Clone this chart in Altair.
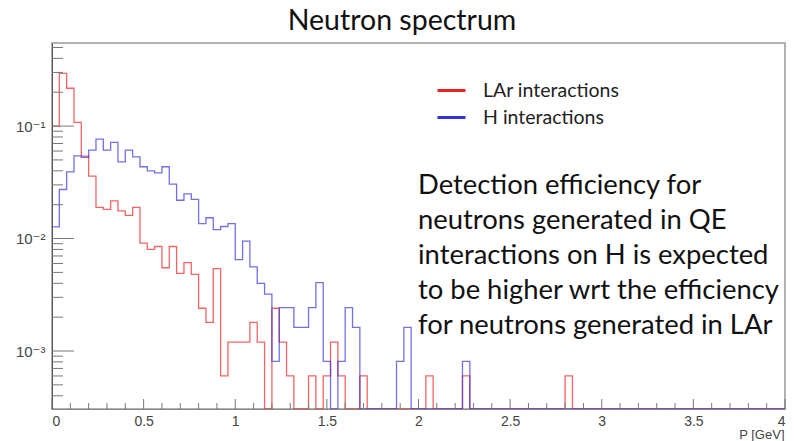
import altair as alt
import pandas as pd

# ---------------- data ----------------
TITLE = "Neutron spectrum"
X_TITLE = "P [GeV]"
SERIES = ["LAr interactions", "H interactions"]
BIN_WIDTH = 0.04
X_MIN, X_MAX = 0.0, 4.0
Y_MIN, Y_MAX = 3.05e-4, 0.548

lar = [0.100, 0.294, 0.217, 0.108, 0.054, 0.0359, 0.0189, 0.0182, 0.0216, 0.0176,
       0.0161, 0.0189, 0.0091, 0.0080, 0.0085, 0.0055, 0.0085, 0.0049, 0.0061, 0.0048,
       0.0024, 0.0018, 0.0054, 0.0006, 0.0012, 0.0012, 0.0012, 0.0018, 0.0012, 0,
       0.0024, 0.0012, 0.0006, 0, 0, 0.0006, 0, 0.0006, 0.0012, 0.0006,
       0, 0, 0.0006, 0, 0, 0, 0, 0, 0, 0,
       0, 0.0006, 0, 0, 0, 0, 0.0006, 0, 0, 0,
       0, 0, 0, 0, 0, 0, 0, 0, 0, 0,
       0.0006, 0, 0, 0, 0, 0, 0, 0, 0, 0,
       0, 0, 0, 0, 0, 0, 0, 0, 0, 0,
       0, 0, 0, 0, 0, 0, 0, 0, 0, 0]

hyd = [0.0127, 0.0273, 0.0392, 0.0544, 0.0526, 0.0611, 0.0766, 0.0611, 0.0716, 0.0481,
       0.0611, 0.0533, 0.0435, 0.0400, 0.0384, 0.0435, 0.0305, 0.0219, 0.0250, 0.0223,
       0.0136, 0.0153, 0.0120, 0.0128, 0.0136, 0.0065, 0.0095, 0.0056, 0.0040, 0.0032,
       0.00081, 0.00243, 0.00243, 0.00162, 0.00162, 0.00243, 0.00405, 0.00081, 0, 0.00081,
       0.00243, 0.00162, 0, 0, 0, 0, 0, 0.00081, 0.00162, 0,
       0, 0, 0, 0, 0, 0, 0.00081, 0, 0, 0,
       0, 0, 0, 0, 0, 0, 0, 0, 0, 0,
       0, 0, 0, 0, 0, 0, 0, 0, 0, 0,
       0, 0, 0, 0, 0, 0, 0, 0, 0, 0,
       0, 0, 0, 0, 0, 0, 0, 0, 0, 0]

x_major = [0, 0.5, 1, 1.5, 2, 2.5, 3, 3.5, 4]
x_minor = [0.1, 0.2, 0.3, 0.4, 0.6, 0.7, 0.8, 0.9, 1.1, 1.2, 1.3, 1.4, 1.6, 1.7, 1.8, 1.9,
           2.1, 2.2, 2.3, 2.4, 2.6, 2.7, 2.8, 2.9, 3.1, 3.2, 3.3, 3.4, 3.6, 3.7, 3.8, 3.9]
y_major = [1e-3, 1e-2, 1e-1]
y_minor = [4e-4, 5e-4, 6e-4, 7e-4, 8e-4, 9e-4,
           2e-3, 3e-3, 4e-3, 5e-3, 6e-3, 7e-3, 8e-3, 9e-3,
           2e-2, 3e-2, 4e-2, 5e-2, 6e-2, 7e-2, 8e-2, 9e-2,
           0.2, 0.3, 0.4, 0.5]

NOTE = ("Detection efficiency for\nneutrons generated in QE\ninteractions on H is expected\n"
        "to be higher wrt the efficiency\nfor neutrons generated in LAr")

# ---------------- build table ----------------
rows = []
for name, vals in zip(SERIES, [lar, hyd]):
    for i, v in enumerate(vals):
        rows.append({"series": name, "x": i * BIN_WIDTH, "y": v if v > 0 else Y_MIN, "i": i})
    rows.append({"series": name, "x": len(vals) * BIN_WIDTH,
                 "y": vals[-1] if vals[-1] > 0 else Y_MIN, "i": len(vals)})
df = pd.DataFrame(rows)

W, H = 733, 366
FONT = "Liberation Sans, DejaVu Sans"
SLIDE_FONT = "Lato"

xscale = alt.Scale(domain=[X_MIN, X_MAX], nice=False, zero=False)
yscale = alt.Scale(type="log", domain=[Y_MIN, Y_MAX], nice=False)
cscale = alt.Scale(domain=SERIES, range=["#ee2222", "#3333dd"])

x_axis = alt.Axis(values=x_major, format="~g", ticks=False, grid=False,
                  domainColor="#888", labelFont=FONT, labelFontSize=14,
                  labelColor="#444", labelPadding=5,
                  title=X_TITLE, titleFont=FONT, titleFontSize=13,
                  titleFontWeight="normal", titleColor="#444",
                  titleAnchor="end", titleAlign="right",
                  titleX=W - 1, titleY=25.5, titleBaseline="middle")
y_axis = alt.Axis(values=y_major, ticks=False, grid=False, domainColor="#555",
                  labelExpr="datum.value < 0.002 ? '10⁻³' : (datum.value < 0.02 ? '10⁻²' : '10⁻¹')",
                  labelFont=FONT, labelFontSize=15, labelColor="#444",
                  labelPadding=7, title=None)

base = alt.Chart(df)

legend = alt.Legend(title=None, orient="none", legendX=384, legendY=32,
                    symbolType="stroke", symbolSize=784, symbolStrokeWidth=3,
                    symbolOpacity=1, labelFont=SLIDE_FONT, labelFontSize=19.5,
                    labelColor="#222", labelOffset=16, rowPadding=2)

def hist(name):
    return base.transform_filter(alt.datum.series == name).mark_line(
        interpolate="step-after", strokeWidth=1.3, opacity=0.7, clip=True
    ).encode(
        x=alt.X("x:Q", scale=xscale, axis=x_axis, title=X_TITLE),
        y=alt.Y("y:Q", scale=yscale, axis=y_axis, title=None),
        color=alt.Color("series:N", scale=cscale, legend=legend),
        order="i:Q",
    )

red_layer = hist(SERIES[0])
blue_layer = hist(SERIES[1])

def yticks(vals, length):
    return alt.Chart(pd.DataFrame({"y": vals})).mark_rule(color="#777", strokeWidth=1).encode(
        y=alt.Y("y:Q", scale=yscale, axis=y_axis, title=None), x=alt.value(0), x2=alt.value(length))

def xticks(vals, length):
    return alt.Chart(pd.DataFrame({"x": vals})).mark_rule(color="#777", strokeWidth=1).encode(
        x=alt.X("x:Q", scale=xscale, axis=x_axis, title=X_TITLE), y=alt.value(H), y2=alt.value(H - length))

title = alt.Chart(pd.DataFrame({"t": [TITLE]})).mark_text(
    font=SLIDE_FONT, fontSize=28.5, color="#111", align="center", baseline="middle"
).encode(text="t:N", x=alt.value(350), y=alt.value(-22))

note = alt.Chart(pd.DataFrame({"t": [NOTE]})).mark_text(
    font=SLIDE_FONT, fontSize=27.4, color="#111", align="left", baseline="top",
    lineBreak="\n", lineHeight=34.9
).encode(text="t:N", x=alt.value(366), y=alt.value(129))

chart = alt.layer(
    red_layer, blue_layer,
    yticks(y_major, 22), yticks(y_minor, 11),
    xticks(x_major, 10), xticks(x_minor, 6),
    title, note,
).resolve_scale(color="shared").properties(
    width=W, height=H, autosize="none",
    padding={"left": 52, "top": 43, "right": 11, "bottom": 32},
    background="white",
).configure_view(stroke="#999", strokeWidth=1.5)

chart.save("out.html", embed_options={"renderer": "svg", "actions": False})
